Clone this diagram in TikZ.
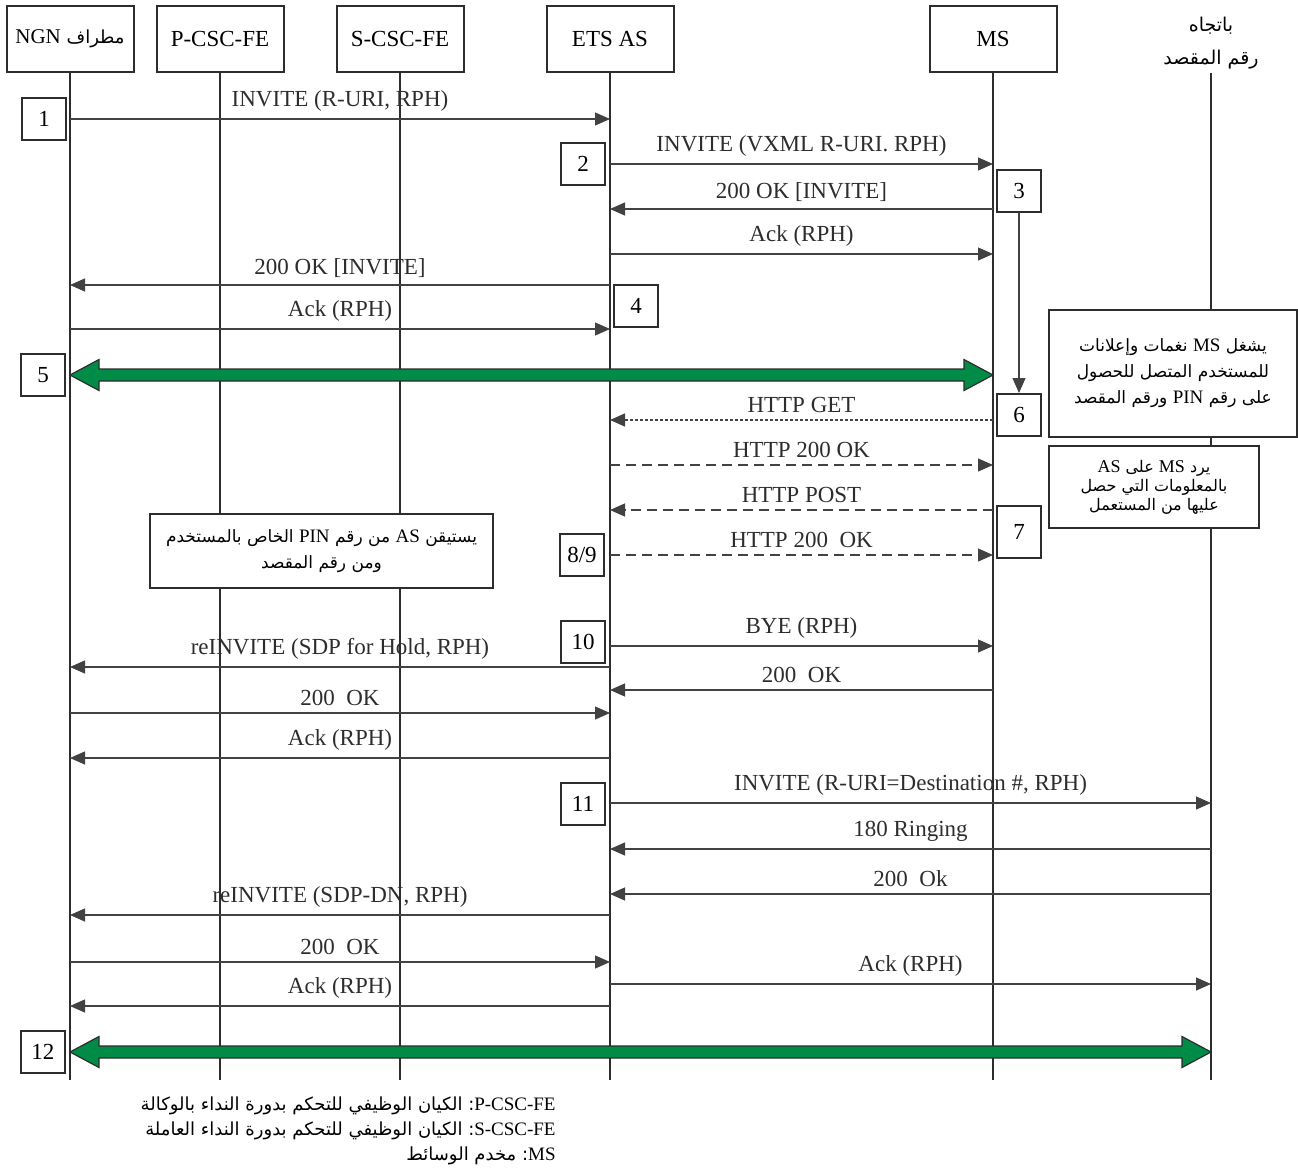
\documentclass[tikz,border=0pt]{standalone}
\usepackage{fontspec}
\setmainfont{Liberation Serif}
\newfontfamily\arabicfont[Script=Arabic]{DejaVu Sans}
\TeXXeTstate=1
\usetikzlibrary{arrows.meta, positioning, calc}
\definecolor{linegray}{RGB}{45,45,45}
\definecolor{callgreen}{RGB}{0,140,70}
\newcommand{\ltn}[1]{{\rmfamily #1}}
\tikzset{
  entity/.style={draw=linegray, line width=1pt, minimum width=63.5pt, minimum height=33pt, font=\fontsize{11.5}{13}\selectfont},
  lifeline/.style={draw=linegray, line width=0.7pt},
  stepbox/.style={draw=linegray, line width=1pt, fill=white, minimum width=22pt, minimum height=21pt, inner sep=0pt, font=\fontsize{11.5}{13}\selectfont},
  msg/.style={draw=linegray!90, line width=0.6pt, -{Triangle[length=7.5pt,width=6.5pt]}},
  dotmsg/.style={msg, dash pattern=on 1.5pt off 1pt},
  dashmsg/.style={msg, dash pattern=on 5pt off 3pt},
  lbl/.style={above, font=\fontsize{11.5}{13}\selectfont, text=linegray},
  notebox/.style={draw=linegray, line width=1pt, fill=white, align=center, inner sep=2pt},
  bigarrow/.style={draw=linegray, line width=0.6pt, fill=callgreen, line join=miter}
}

\begin{document}
\begin{tikzpicture}[x=0.5pt, y=-0.5pt]
  \useasboundingbox (0,0) rectangle (1298,1168);

  % Entities
  \node[entity] (ngn) at (70,39) {{\arabicfont\fontsize{9}{12}\selectfont\beginR مطراف \ltn{\fontsize{10.5}{13}\selectfont NGN}\endR}};
  \node[entity] (pcsc) at (220,39) {P-CSC-FE};
  \node[entity] (scsc) at (400,39) {S-CSC-FE};
  \node[entity] (etsas) at (610,39) {ETS AS};
  \node[entity] (ms) at (993,39) {MS};
  \node[font=\arabicfont\fontsize{9.5}{16.5}\selectfont, align=center, inner sep=2pt] (dest) at (1211,43) {\beginR باتجاه\endR\\\beginR رقم المقصد\endR};

  % Lifelines
  \foreach \n in {ngn,pcsc,scsc,etsas,ms,dest}
    \draw[lifeline] (\n.south) -- (\n.south |- 0,1080);

  % Call setup with the media server
  \draw[msg] (ngn |- 0,119) -- node[lbl] {INVITE (R-URI, RPH)} (etsas |- 0,119);
  \draw[msg] (etsas |- 0,164) -- node[lbl] {INVITE (VXML R-URI. RPH)} (ms |- 0,164);
  \draw[msg] (ms |- 0,209) -- node[lbl] {200 OK [INVITE]} (etsas |- 0,209);
  \draw[msg] (etsas |- 0,254) -- node[lbl] {Ack (RPH)} (ms |- 0,254);
  \draw[msg] (etsas |- 0,285) -- node[lbl] {200 OK [INVITE]} (ngn |- 0,285);
  \draw[msg] (ngn |- 0,329) -- node[lbl] {Ack (RPH)} (etsas |- 0,329);

  % Media path NGN <-> MS
  \coordinate (c5l) at (ngn |- 0,375);
  \coordinate (c5r) at (ms |- 0,375);
  \draw[bigarrow] (c5l) -- ++(29,-15.5) -- ++(0,9.5) -- ($(c5r)+(-29,-6)$) -- ++(0,-9.5) -- (c5r) -- ++(-29,15.5) -- ++(0,-9.5) -- ($(c5l)+(29,6)$) -- ++(0,9.5) -- cycle;

  % HTTP exchange
  \draw[dotmsg] (ms |- 0,420) -- node[lbl] {HTTP GET} (etsas |- 0,420);
  \draw[dashmsg] (etsas |- 0,465) -- node[lbl] {HTTP 200 OK} (ms |- 0,465);
  \draw[dashmsg] (ms |- 0,510) -- node[lbl] {HTTP POST} (etsas |- 0,510);
  \draw[dashmsg] (etsas |- 0,555) -- node[lbl] {HTTP 200~~OK} (ms |- 0,555);

  % Release MS, hold caller
  \draw[msg] (etsas |- 0,646) -- node[lbl] {BYE (RPH)} (ms |- 0,646);
  \draw[msg] (etsas |- 0,667) -- node[lbl] {reINVITE (SDP for Hold, RPH)} (ngn |- 0,667);
  \draw[msg] (ms |- 0,690) -- node[lbl] {200~~OK} (etsas |- 0,690);
  \draw[msg] (ngn |- 0,713) -- node[lbl] {200~~OK} (etsas |- 0,713);
  \draw[msg] (etsas |- 0,758) -- node[lbl] {Ack (RPH)} (ngn |- 0,758);

  % Call to destination
  \draw[msg] (etsas |- 0,803) -- node[lbl] {INVITE (R-URI=Destination \#, RPH)} (dest |- 0,803);
  \draw[msg] (dest |- 0,849) -- node[lbl] {180 Ringing} (etsas |- 0,849);
  \draw[msg] (dest |- 0,894) -- node[lbl] {200~~Ok} (etsas |- 0,894);
  \draw[msg] (etsas |- 0,915) -- node[lbl] {reINVITE (SDP-DN, RPH)} (ngn |- 0,915);
  \draw[msg] (ngn |- 0,962) -- node[lbl] {200~~OK} (etsas |- 0,962);
  \draw[msg] (etsas |- 0,984) -- node[lbl] {Ack (RPH)} (dest |- 0,984);
  \draw[msg] (etsas |- 0,1006) -- node[lbl] {Ack (RPH)} (ngn |- 0,1006);

  % Media path NGN <-> destination
  \coordinate (c12l) at (ngn |- 0,1052);
  \coordinate (c12r) at (dest |- 0,1052);
  \draw[bigarrow] (c12l) -- ++(29,-15.5) -- ++(0,9.5) -- ($(c12r)+(-29,-6)$) -- ++(0,-9.5) -- (c12r) -- ++(-29,15.5) -- ++(0,-9.5) -- ($(c12l)+(29,6)$) -- ++(0,9.5) -- cycle;

  % Notes
  \node[notebox, minimum width=171.5pt, minimum height=37pt, font=\arabicfont\fontsize{8.5}{13}\selectfont] (verify) at (321.5,551) {\beginR يستيقن \ltn{\fontsize{9.5}{13}\selectfont AS} من رقم \ltn{\fontsize{9.5}{13}\selectfont PIN} الخاص بالمستخدم\endR\\\beginR ومن رقم المقصد\endR};
  \node[notebox, minimum width=124pt, minimum height=63.5pt, font=\arabicfont\fontsize{8.5}{13}\selectfont] (plays) at (1173,373.5) {\beginR يشغل \ltn{\fontsize{9.5}{13}\selectfont MS} نغمات وإعلانات\endR\\\beginR للمستخدم المتصل للحصول\endR\\\beginR على رقم \ltn{\fontsize{9.5}{13}\selectfont PIN} ورقم المقصد\endR};
  \node[notebox, minimum width=105pt, minimum height=41pt, font=\arabicfont\fontsize{8}{9.5}\selectfont] (reply) at (1154,487) {\beginR يرد \ltn{\fontsize{9}{9.5}\selectfont MS} على \ltn{\fontsize{9}{9.5}\selectfont AS}\endR\\\beginR بالمعلومات التي حصل\endR\\\beginR عليها من المستعمل\endR};

  % Step numbers
  \node[stepbox] (s1) at (44,119) {1};
  \node[stepbox] (s2) at (583,164) {2};
  \node[stepbox] (s3) at (1019,191) {3};
  \node[stepbox] (s4) at (636,306) {4};
  \node[stepbox] (s5) at (43,375) {5};
  \node[stepbox] (s6) at (1019,415) {6};
  \node[stepbox, minimum height=26pt] (s7) at (1019,532) {7};
  \node[stepbox] (s89) at (582,555) {8/9};
  \node[stepbox] (s10) at (583,642) {10};
  \node[stepbox] (s11) at (583,804) {11};
  \node[stepbox] (s12) at (43,1052) {12};
  \draw[msg] (s3) -- (s6);

  % Legend
  \node[anchor=north east, align=right, inner sep=0pt, font=\arabicfont\fontsize{9}{12.5}\selectfont] (legend) at (556,1096) {\beginR\ltn{\fontsize{9.5}{12.5}\selectfont P-CSC-FE}: الكيان الوظيفي للتحكم بدورة النداء بالوكالة\endR\\\beginR\ltn{\fontsize{9.5}{12.5}\selectfont S-CSC-FE}: الكيان الوظيفي للتحكم بدورة النداء العاملة\endR\\\beginR\ltn{\fontsize{9.5}{12.5}\selectfont MS}: مخدم الوسائط\endR};
\end{tikzpicture}
\end{document}
